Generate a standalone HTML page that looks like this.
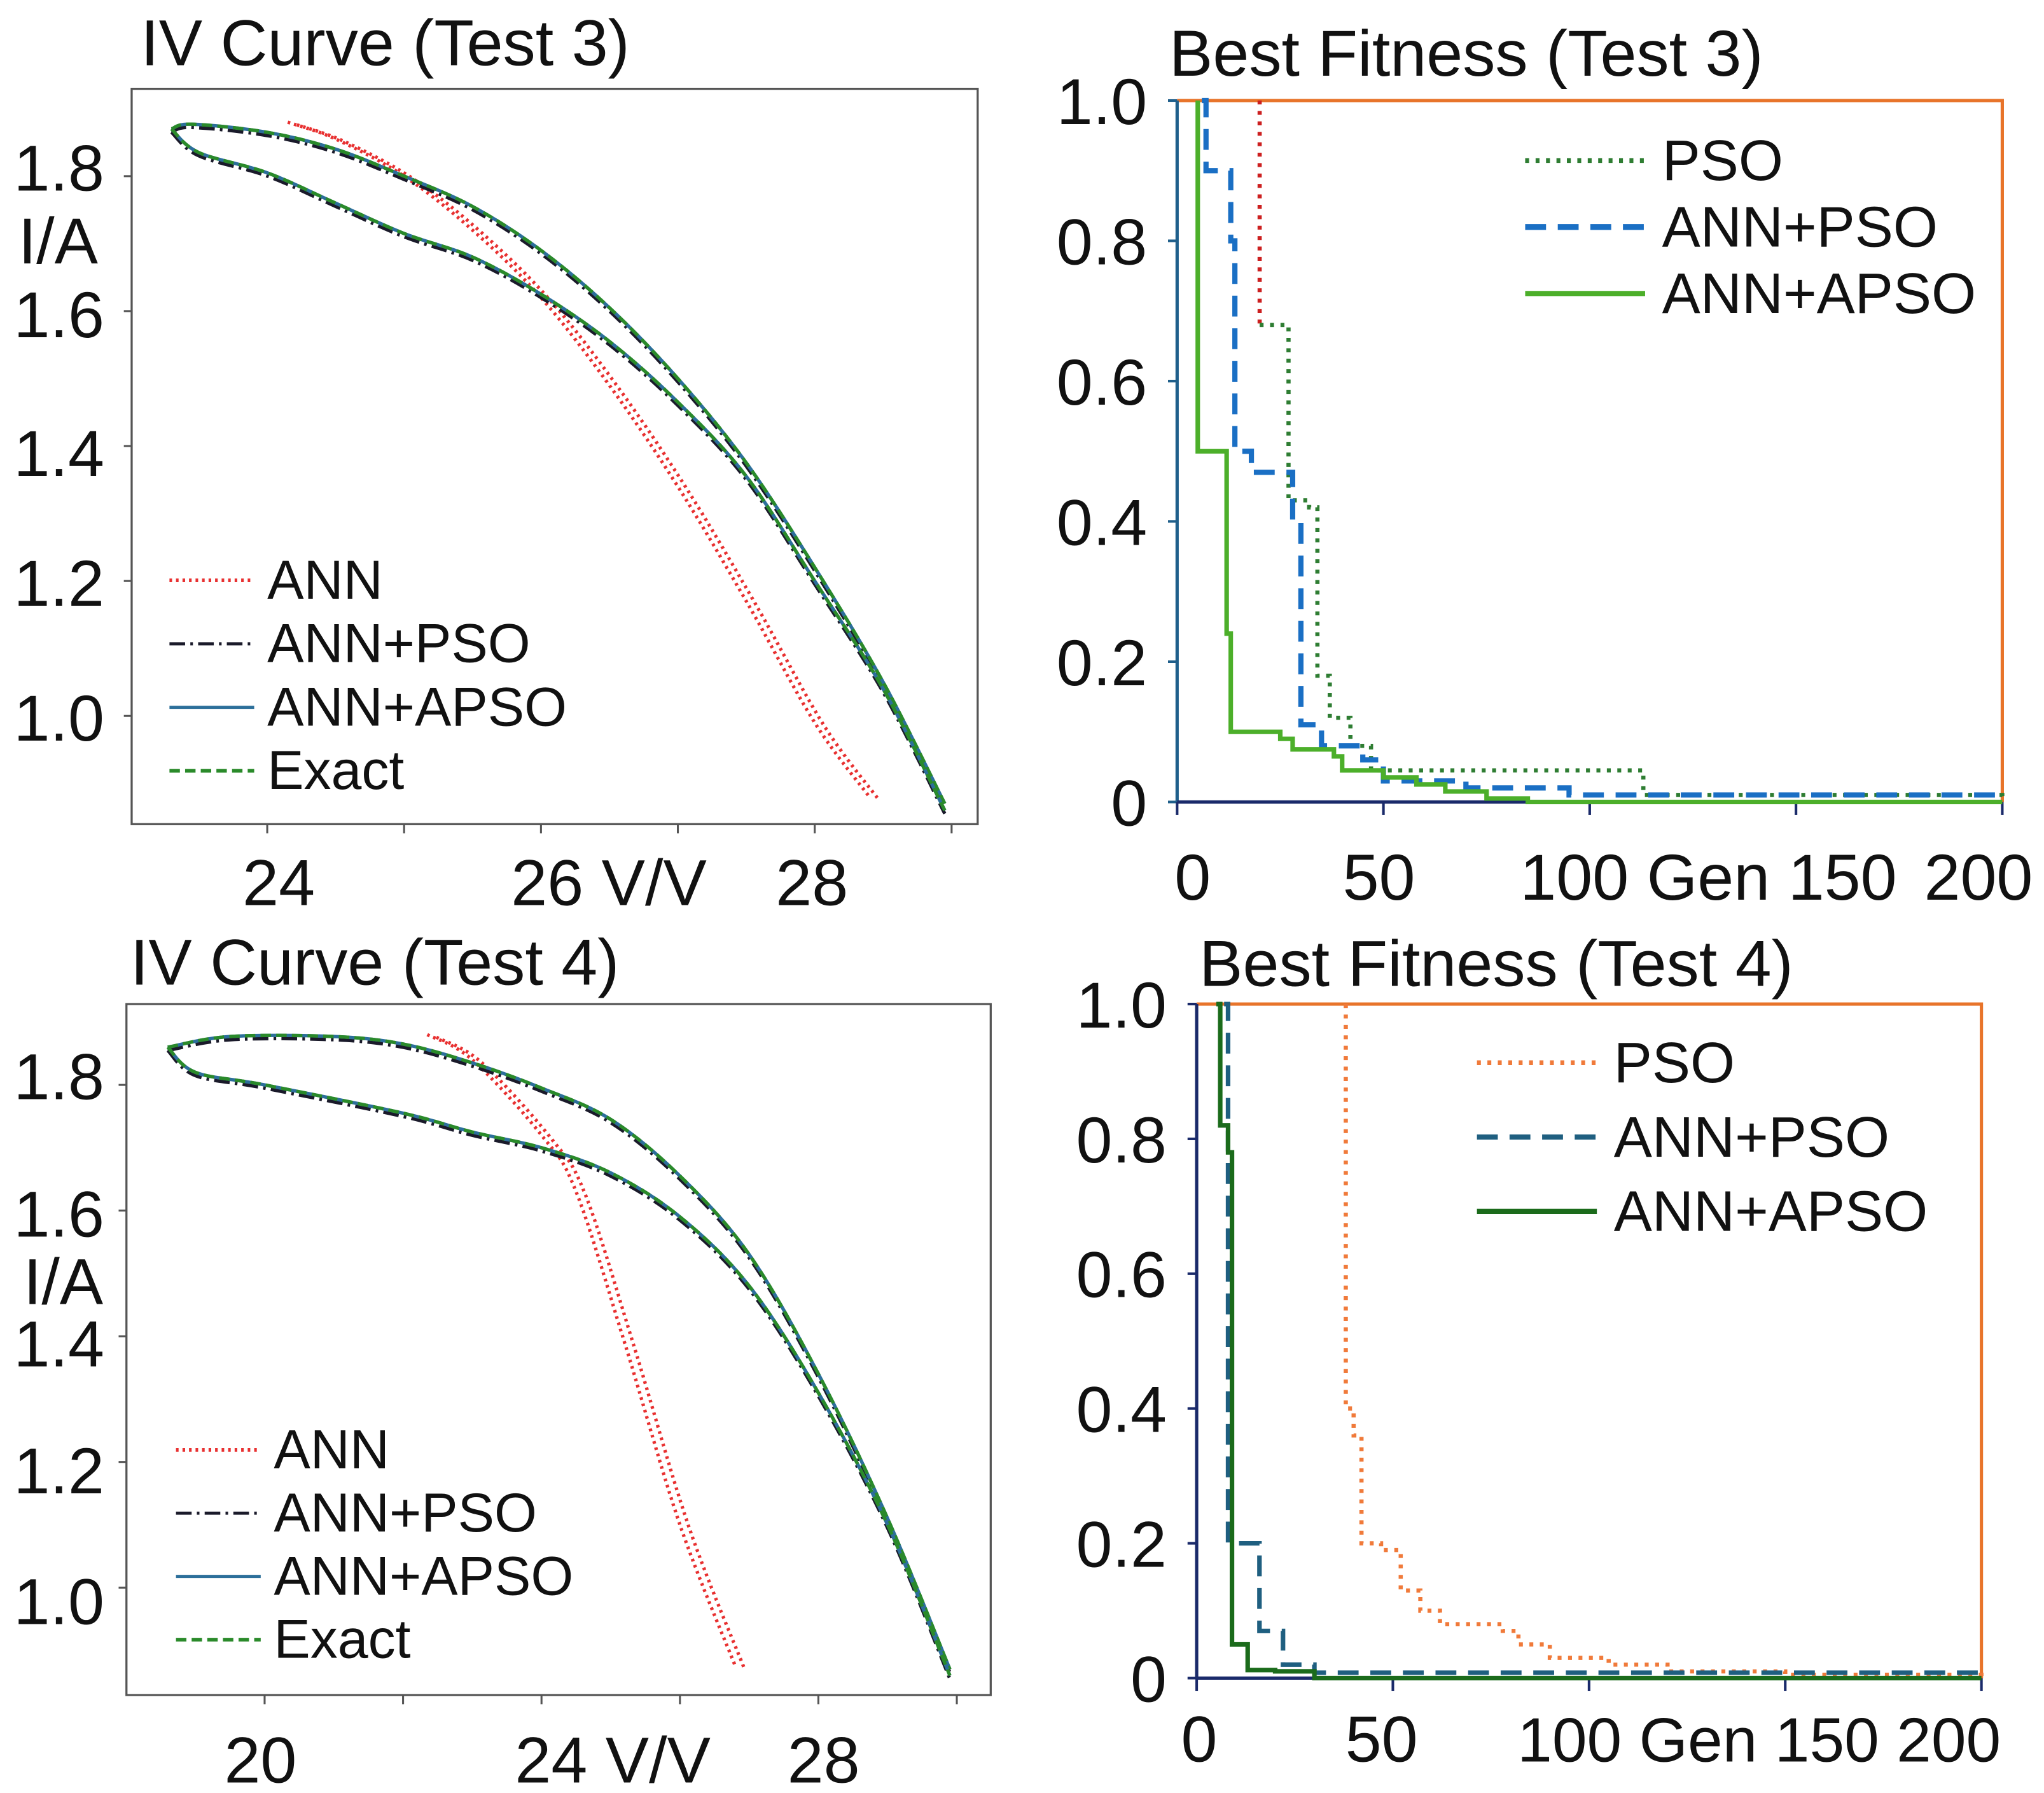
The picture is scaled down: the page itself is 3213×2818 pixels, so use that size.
<!DOCTYPE html>
<html><head><meta charset="utf-8"><style>
html,body{margin:0;padding:0;background:#fff}
svg{display:block}
text{font-family:"Liberation Sans",sans-serif;fill:#111}
</style></head><body>
<svg id="fig" width="3213" height="2818" viewBox="0 0 1568 1375" xmlns="http://www.w3.org/2000/svg"></svg>
<script>
// ---- IV Test 3 data (V, I)
const iv3UpperV=[23.3,23.45,24,24.5,25,25.5,26,26.5,27,27.5,28,28.5,28.95];
const iv3UpperI=[1.87,1.877,1.865,1.84,1.80,1.755,1.69,1.605,1.50,1.375,1.22,1.05,0.87];
const iv3LowerV=[23.3,23.5,24,24.5,25,25.5,26,26.5,27,27.5,28,28.5,28.95];
const iv3LowerI=[1.87,1.835,1.805,1.76,1.715,1.68,1.625,1.555,1.465,1.355,1.20,1.04,0.86];
const iv3AnnV=[24.15,24.5,25,25.5,26,26.5,27,27.5,28,28.4];
const iv3AnnI=[1.88,1.855,1.80,1.72,1.62,1.49,1.34,1.17,0.99,0.88];
// ---- IV Test 4 data
const iv4UpperV=[18.6,19.5,21,22,23,24,25,26,27,28,29,29.9];
const iv4UpperI=[1.86,1.877,1.877,1.865,1.835,1.795,1.745,1.655,1.53,1.34,1.11,0.87];
const iv4LowerV=[18.6,19,20,22,23,24,25,26,27,28,29,29.9];
const iv4LowerI=[1.86,1.82,1.80,1.755,1.725,1.70,1.66,1.59,1.48,1.31,1.10,0.86];
const iv4AnnV=[22.35,23,24,24.5,25.2,26,26.8];
const iv4AnnI=[1.88,1.84,1.72,1.63,1.39,1.10,0.875];
// ---- Fitness Test 3 (step breakpoints: generation, value)
const f3PsoG=[20,20,27,27,32,34,37,42,47,110,113,200];
const f3PsoV=[1.0,0.68,0.68,0.43,0.42,0.18,0.12,0.08,0.045,0.045,0.01,0.005];
const f3AnnPsoG=[6,7,12,13,14,18,28,30,35,45,50,70,95,200];
const f3AnnPsoV=[1.0,0.9,0.9,0.8,0.5,0.47,0.4,0.11,0.08,0.06,0.03,0.02,0.01,0.01];
const f3ApsoG=[5,5,10,12,13,22,25,28,33,38,40,50,58,65,75,85,200];
const f3ApsoV=[1.0,0.5,0.5,0.24,0.1,0.1,0.09,0.075,0.075,0.065,0.045,0.035,0.025,0.015,0.005,0,0];
// ---- Fitness Test 4
const f4PsoG=[38,38,40,42,47,52,57,62,78,82,90,105,120,150,200];
const f4PsoV=[1.0,0.4,0.36,0.2,0.19,0.13,0.1,0.08,0.07,0.05,0.03,0.02,0.01,0.005,0.003];
const f4AnnPsoG=[7,8,15,16,22,30,200];
const f4AnnPsoV=[1.0,0.2,0.2,0.07,0.02,0.008,0.003];
const f4ApsoG=[5,6,8,9,12,13,20,30,200];
const f4ApsoV=[1.0,0.82,0.78,0.05,0.05,0.012,0.01,0,0];
const genTicks=[0,50,100,150,200];
const fitTicks=[0,0.2,0.4,0.6,0.8,1.0];

const NS="http://www.w3.org/2000/svg";
const svg=document.getElementById('fig');
function el(tag,attrs,parent){const e=document.createElementNS(NS,tag);for(const k in attrs)e.setAttribute(k,attrs[k]);(parent||svg).appendChild(e);return e;}
function txt(x,y,s,size,anchor){const t=el('text',{x:x,y:y,'font-size':size,'text-anchor':anchor||'start'});t.textContent=s;return t;}
function smooth(pts){let d='M'+pts[0][0]+','+pts[0][1];for(let i=0;i<pts.length-1;i++){const p0=pts[Math.max(0,i-1)],p1=pts[i],p2=pts[i+1],p3=pts[Math.min(pts.length-1,i+2)];
const c1=[p1[0]+(p2[0]-p0[0])/6,p1[1]+(p2[1]-p0[1])/6],c2=[p2[0]-(p3[0]-p1[0])/6,p2[1]-(p3[1]-p1[1])/6];
d+=' C'+c1[0]+','+c1[1]+' '+c2[0]+','+c2[1]+' '+p2[0]+','+p2[1];}return d;}

function ivPanel(o){
  const g=el('g',{});
  
  
  const sx=v=>o.x0+(v-o.v0)*o.pxV, sy=i=>o.y0-(i-o.i0)*o.pxI;
  el('rect',{x:o.bx,y:o.by,width:o.bw,height:o.bh,fill:'none',stroke:'#555','stroke-width':1.6},g);
  const t=txt(o.tx,o.ty,o.title,50);  
  o.yt.forEach((v,k)=>{const y=sy(v);el('line',{x1:o.bx-6,x2:o.bx,y1:y,y2:y,stroke:'#555','stroke-width':1.5},g);
    const l=txt(o.ylx,y+o.yoff[k],v.toFixed(1),50,'end');});
  o.xtMinor.forEach(v=>{const x=sx(v);el('line',{x1:x,x2:x,y1:o.by+o.bh,y2:o.by+o.bh+7,stroke:'#555','stroke-width':1.5},g);});
  const yl=txt(o.ylabX,o.ylabY,'I/A',50); 
  o.xl.forEach(a=>{const l=txt(a[0],o.xly,a[1],50);});
  const up=o.uV.map((v,i)=>[sx(v),sy(o.uI[i])]), lo=o.lV.map((v,i)=>[sx(v),sy(o.lI[i])]);
  const ann=o.aV.map((v,i)=>[sx(v),sy(o.aI[i])]);
  let p;
  p=el('path',{d:smooth(ann),fill:'none',stroke:'#e83030','stroke-width':2.6,'stroke-dasharray':'2 3'},g);
  p=el('path',{d:smooth(ann.map(q=>[q[0]+7,q[1]+2])),fill:'none',stroke:'#e83030','stroke-width':2.6,'stroke-dasharray':'2 3'},g);
  [[up,'upper'],[lo,'lower']].forEach(([pts,nm])=>{
    p=el('path',{d:smooth(pts.map(q=>[q[0],q[1]+2.5])),fill:'none',stroke:'#1a1a2a','stroke-width':2.6,'stroke-dasharray':'12 4 2 4'},g);
    p=el('path',{d:smooth(pts),fill:'none',stroke:'#2c6f9a','stroke-width':2.6},g);
    p=el('path',{d:smooth(pts),fill:'none',stroke:'#2a8a2a','stroke-width':2.6,'stroke-dasharray':'8 4'},g);
  });
  const leg=[['ANN','#e83030','2 3',2.8],['ANN+PSO','#1a1a2a','12 4 2 4',2.4],['ANN+APSO','#2c6f9a','',2.4],['Exact','#2a8a2a','8 4',2.8]];
  leg.forEach((e,k)=>{const y=o.legY+k*o.legDy;
    const ln=el('line',{x1:o.legX,x2:o.legX+65,y1:y-14,y2:y-14,stroke:e[1],'stroke-width':e[3],'stroke-dasharray':e[2]},g);
    const t=txt(o.legX+75,y,e[0],42);});
}

function fitPanel(o){
  const g=el('g',{});
  
  
  const sx=v=>o.ax+v*(o.ax2-o.ax)/200, sy=v=>o.ay0-v*(o.ay0-o.ay1);
  const t=txt(o.tx,o.ty,o.title,50);
  let p;
  p=el('polyline',{points:`${o.ax},${o.ay1} ${o.ax2},${o.ay1} ${o.ax2},${o.ay0}`,fill:'none',stroke:'#e8742a','stroke-width':2.5},g);
  p=el('line',{x1:o.ax,x2:o.ax,y1:o.ay1,y2:o.ay0,stroke:o.leftC,'stroke-width':2.5},g);
  p=el('line',{x1:o.ax,x2:o.ax2,y1:o.ay0,y2:o.ay0,stroke:'#1a2a6a','stroke-width':2.5},g);
  fitTicks.forEach(v=>{const y=sy(v);el('line',{x1:o.ax-7,x2:o.ax,y1:y,y2:y,stroke:o.leftC,'stroke-width':2},g);
    const l=txt(o.ylx,y+18,v===0?'0':v.toFixed(1),50,'end');});
  genTicks.forEach(v=>{const x=sx(v);el('line',{x1:x,x2:x,y1:o.ay0,y2:o.ay0+10,stroke:'#1a2a6a','stroke-width':2},g);});
  o.xl.forEach(a=>{const l=txt(a[0],o.xly,a[1],a[2]||50);});
  o.series.forEach(s=>{
    let d='M'+sx(s.g[0])+','+sy(s.v[0]);
    for(let i=1;i<s.g.length;i++){d+=' H'+sx(s.g[i])+' V'+sy(s.v[i]);}
    if(s.firstColor){
      const q=el('line',{x1:sx(s.g[0]),x2:sx(s.g[1]),y1:sy(s.v[0]),y2:sy(s.v[1]),stroke:s.firstColor,'stroke-width':s.w,'stroke-dasharray':s.dash},g);
      d='M'+sx(s.g[1])+','+sy(s.v[1]);for(let i=2;i<s.g.length;i++){d+=' H'+sx(s.g[i])+' V'+sy(s.v[i]);}
    }
    const pe=el('path',{d:d,fill:'none',stroke:s.c,'stroke-width':s.w,'stroke-dasharray':s.dash},g);
    
  });
  o.series.forEach((s,k)=>{const y=o.legY+k*o.legDy;
    const ln=el('line',{x1:o.legX,x2:o.legX+92,y1:y-15,y2:y-15,stroke:s.c,'stroke-width':s.w+0.5,'stroke-dasharray':s.dash},g);
    const t=txt(o.legX+105,y,s.label,44);});
}

ivPanel({name:'iv-curve-test3',bx:101,by:68,bw:649,bh:564,x0:205,v0:24,pxV:105,y0:135,i0:1.8,pxI:517.5,
  title:'IV Curve (Test 3)',tx:108,ty:50,yt:[1.8,1.6,1.4,1.2,1.0],yoff:[11,20,23,19,19],ylx:80,
  xtMinor:[24,25,26,27,28,29],xl:[[186,'24'],[392,'26 V/V'],[595,'28']],xly:694,ylabX:14,ylabY:202,
  uV:iv3UpperV,uI:iv3UpperI,lV:iv3LowerV,lI:iv3LowerI,aV:iv3AnnV,aI:iv3AnnI,legX:130,legY:459,legDy:48.7});
ivPanel({name:'iv-curve-test4',bx:97,by:770,bw:663,bh:530,x0:203,v0:20,pxV:53.1,y0:832,i0:1.8,pxI:482,
  title:'IV Curve (Test 4)',tx:100,ty:755,yt:[1.8,1.6,1.4,1.2,1.0],yoff:[11,20,23,24,28],ylx:80,
  xtMinor:[20,22,24,26,28,30],xl:[[172,'20'],[395,'24 V/V'],[604,'28']],xly:1367,ylabX:18,ylabY:1000,
  uV:iv4UpperV,uI:iv4UpperI,lV:iv4LowerV,lI:iv4LowerI,aV:iv4AnnV,aI:iv4AnnI,legX:135,legY:1126,legDy:48.5});
fitPanel({name:'best-fitness-test3',ax:903,ax2:1536,ay0:615,ay1:77,leftC:'#1f5f8b',title:'Best Fitness (Test 3)',tx:897,ty:58,ylx:880,
  xl:[[901,'0'],[1030,'50'],[1166,'100 Gen 150'],[1476,'200']],xly:690,legX:1170,legY:138,legDy:51,
  series:[{g:f3PsoG,v:f3PsoV,c:'#2e7d32',w:3.2,dash:'3 5',label:'PSO',nm:'pso-line',firstColor:'#cc1f1f'},
          {g:f3AnnPsoG,v:f3AnnPsoV,c:'#1a6fc4',w:4,dash:'16 9',label:'ANN+PSO',nm:'ann-pso-line'},
          {g:f3ApsoG,v:f3ApsoV,c:'#4caf2a',w:3.5,dash:'',label:'ANN+APSO',nm:'ann-apso-line'}]});
fitPanel({name:'best-fitness-test4',ax:918,ax2:1520,ay0:1287,ay1:770,leftC:'#1a2a6a',title:'Best Fitness (Test 4)',tx:920,ty:756,ylx:895,
  xl:[[906,'0'],[1032,'50'],[1164,'100 Gen 150 200',48]],xly:1351,legX:1133,legY:830,legDy:57,
  series:[{g:f4PsoG,v:f4PsoV,c:'#f07a3a',w:3.2,dash:'3 5',label:'PSO',nm:'pso-line'},
          {g:f4AnnPsoG,v:f4AnnPsoV,c:'#1f5f80',w:3.5,dash:'16 9',label:'ANN+PSO',nm:'ann-pso-line'},
          {g:f4ApsoG,v:f4ApsoV,c:'#1b6b1b',w:3.5,dash:'',label:'ANN+APSO',nm:'ann-apso-line'}]});
</script>
</body></html>
